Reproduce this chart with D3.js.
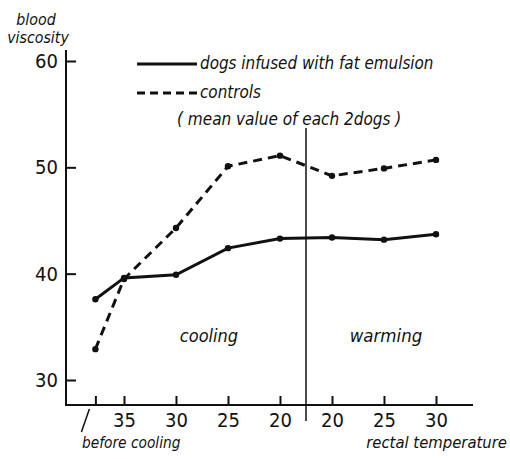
<!DOCTYPE html>
<html>
<head>
<meta charset="utf-8">
<script src="https://cdn.jsdelivr.net/npm/d3@7"></script>
<style>
  body { margin: 0; background: #fff; }
  text { font-family: "DejaVu Sans Condensed", "DejaVu Sans", sans-serif; font-stretch: condensed; fill: #111; }
  .lbl { font-style: italic; }
</style>
</head>
<body>
<div id="chart"></div>
<script>
// temperature steps (position on the axis, tick label)
var xPos = [-0.55, 0, 1, 2, 3, 4, 5, 6];
var tickLabels = ["", "35", "30", "25", "20", "20", "25", "30"];
var yTicks = [30, 40, 50, 60];

// blood viscosity
var fatEmulsion = [37.6, 39.6, 39.9, 42.4, 43.3, 43.4, 43.2, 43.7];
var controls = [32.9, 39.5, 44.3, 50.1, 51.1, 49.2, 49.9, 50.7];

var dividerPos = 3.5;

init();

function init() {
    var w = 510, h = 459;
    var svg = d3.select("#chart").append("svg")
        .attr("width", w)
        .attr("height", h);

    var x = d3.scaleLinear().domain([0, 6]).range([124, 436]);
    var y = d3.scaleLinear().domain([30, 60]).range([380, 61]);

    var axisX0 = 66, axisY0 = 405;

    // axis lines
    svg.append("line")
        .attr("x1", axisX0).attr("y1", 50)
        .attr("x2", axisX0).attr("y2", axisY0)
        .attr("stroke", "#111").attr("stroke-width", 2);
    svg.append("line")
        .attr("x1", axisX0 - 1).attr("y1", axisY0)
        .attr("x2", 473).attr("y2", axisY0)
        .attr("stroke", "#111").attr("stroke-width", 2);

    // y ticks
    var yAxis = svg.append("g")
        .attr("transform", "translate(" + axisX0 + ",0)")
        .call(d3.axisLeft(y).tickValues(yTicks).tickSize(-10).tickPadding(8));
    yAxis.select(".domain").remove();
    yAxis.selectAll(".tick line").attr("stroke", "#111").attr("stroke-width", 2);
    yAxis.selectAll(".tick text")
        .attr("font-size", 20)
        .attr("font-family", "DejaVu Sans Condensed")
        .attr("fill", "#111");

    // x ticks
    var xAxis = svg.append("g")
        .attr("transform", "translate(0," + axisY0 + ")")
        .call(d3.axisBottom(x).tickValues(xPos).tickSize(-9).tickPadding(8)
            .tickFormat(function(d, i) { return tickLabels[i]; }));
    xAxis.select(".domain").remove();
    xAxis.selectAll(".tick line").attr("stroke", "#111").attr("stroke-width", 2);
    xAxis.selectAll(".tick text")
        .attr("font-size", 20)
        .attr("font-family", "DejaVu Sans Condensed")
        .attr("fill", "#111");

    // cooling / warming divider
    svg.append("line")
        .attr("x1", x(dividerPos)).attr("y1", 128)
        .attr("x2", x(dividerPos)).attr("y2", 421)
        .attr("stroke", "#111").attr("stroke-width", 1.5);

    var line = d3.line()
        .x(function(d, i) { return x(xPos[i]); })
        .y(function(d) { return y(d); });

    svg.append("path")
        .datum(fatEmulsion)
        .attr("fill", "none")
        .attr("stroke", "#111")
        .attr("stroke-width", 3)
        .attr("d", line);

    svg.append("path")
        .datum(controls)
        .attr("fill", "none")
        .attr("stroke", "#111")
        .attr("stroke-width", 3)
        .attr("stroke-dasharray", "9,6")
        .attr("d", line);

    [fatEmulsion, controls].forEach(function(series) {
        svg.append("g").selectAll("circle")
            .data(series)
            .enter()
            .append("circle")
            .attr("cx", function(d, i) { return x(xPos[i]); })
            .attr("cy", function(d) { return y(d); })
            .attr("r", 3.2)
            .attr("fill", "#111");
    });

    // legend
    svg.append("line")
        .attr("x1", 137).attr("y1", 64).attr("x2", 197).attr("y2", 64)
        .attr("stroke", "#111").attr("stroke-width", 3);
    svg.append("line")
        .attr("x1", 137).attr("y1", 93).attr("x2", 197).attr("y2", 93)
        .attr("stroke", "#111").attr("stroke-width", 3)
        .attr("stroke-dasharray", "8,5");

    var labels = [
        {t: "dogs infused with fat emulsion", x: 200, y: 69, s: 16.9, a: "start"},
        {t: "controls", x: 200, y: 98, s: 16.9, a: "start"},
        {t: "( mean value of each 2dogs )", x: 177, y: 125, s: 17, a: "start"},
        {t: "blood", x: 36, y: 25, s: 15.8, a: "middle"},
        {t: "viscosity", x: 38, y: 43, s: 15.8, a: "middle"},
        {t: "cooling", x: 209, y: 342, s: 18, a: "middle"},
        {t: "warming", x: 386, y: 342, s: 18.5, a: "middle"},
        {t: "before cooling", x: 82, y: 448, s: 15.3, a: "start"},
        {t: "rectal temperature", x: 507, y: 448, s: 16.5, a: "end"}
    ];

    svg.selectAll(".lbl")
        .data(labels)
        .enter()
        .append("text")
        .attr("class", "lbl")
        .attr("x", function(d) { return d.x; })
        .attr("y", function(d) { return d.y; })
        .attr("font-size", function(d) { return d.s; })
        .attr("text-anchor", function(d) { return d.a; })
        .text(function(d) { return d.t; });

    // slash pointing at the "before cooling" tick
    svg.append("line")
        .attr("x1", x(xPos[0]) - 6).attr("y1", 409)
        .attr("x2", x(xPos[0]) - 14).attr("y2", 432)
        .attr("stroke", "#111").attr("stroke-width", 1.5);
}
</script>
</body>
</html>
